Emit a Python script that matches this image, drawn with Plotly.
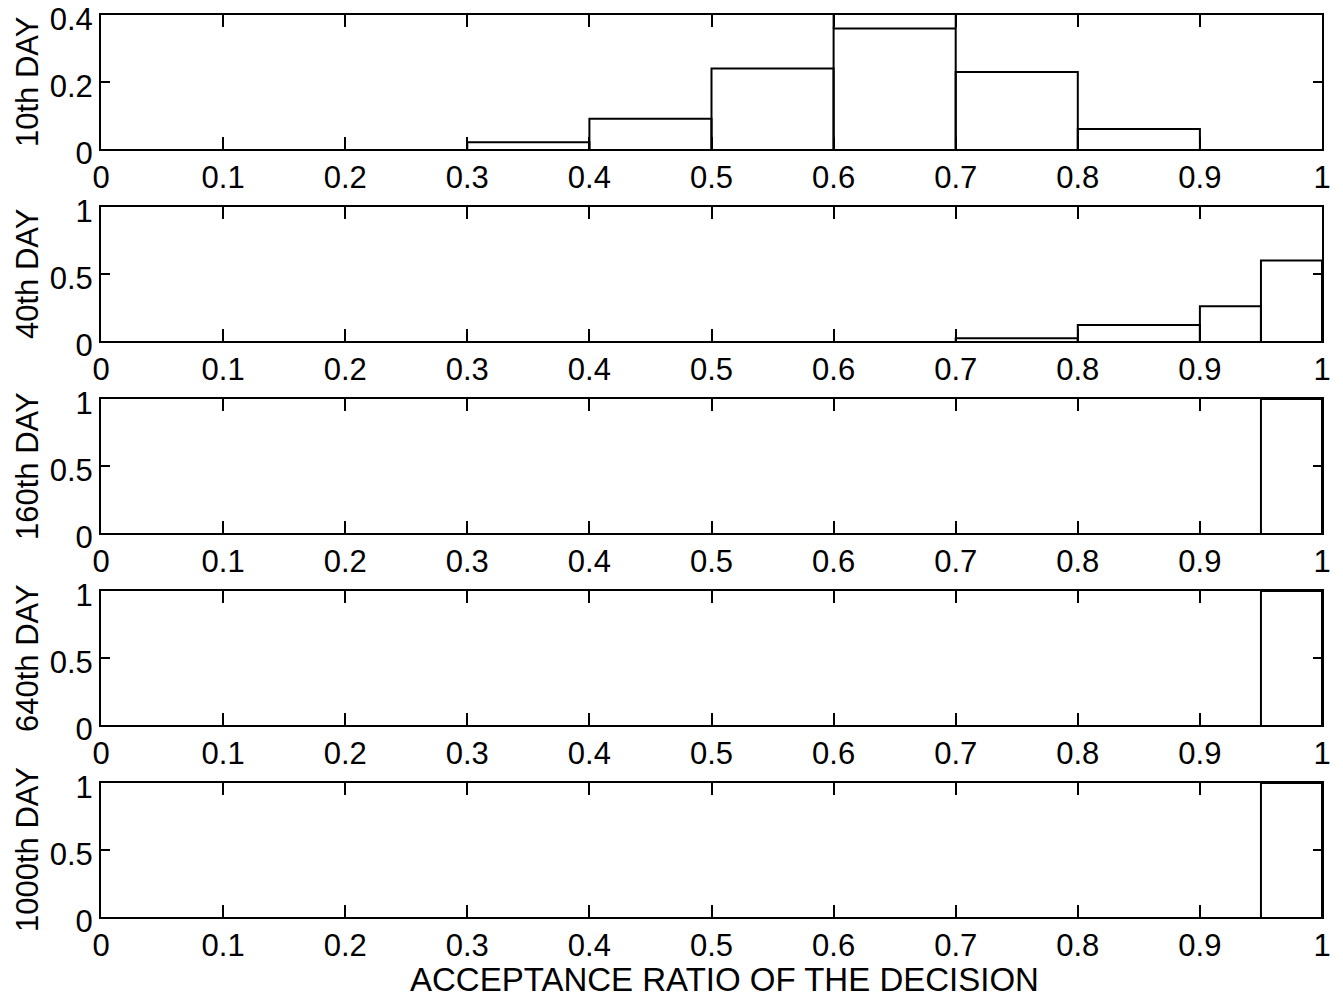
import plotly.graph_objects as go

# Histogram bins (left edge, right edge) and relative frequencies per observation day
x_tick_vals = [0, 0.1, 0.2, 0.3, 0.4, 0.5, 0.6, 0.7, 0.8, 0.9, 1.0]
x_tick_text = ["0", "0.1", "0.2", "0.3", "0.4", "0.5", "0.6", "0.7", "0.8", "0.9", "1"]

day10_edges = [0.3, 0.4, 0.5, 0.6, 0.7, 0.8, 0.9, 1.0]
day10_vals = [0.02, 0.09, 0.24, 0.36, 0.23, 0.06, 0.0]
day10_offscale_bin = [0.6, 0.7]          # bin whose outline runs past the axis top

day40_edges = [0.7, 0.8, 0.9, 0.95, 1.0]
day40_vals = [0.02, 0.12, 0.26, 0.60]

day160_edges = [0.95, 1.0]
day160_vals = [1.0]

day640_edges = [0.95, 1.0]
day640_vals = [1.0]

day1000_edges = [0.95, 1.0]
day1000_vals = [1.0]

panel_titles = ["10th DAY", "40th DAY", "160th DAY", "640th DAY", "1000th DAY"]
panel_edges = [day10_edges, day40_edges, day160_edges, day640_edges, day1000_edges]
panel_vals = [day10_vals, day40_vals, day160_vals, day640_vals, day1000_vals]
y_ranges = [[0, 0.4], [0, 1], [0, 1], [0, 1], [0, 1]]
y_tick_vals = [[0, 0.2, 0.4], [0, 0.5, 1], [0, 0.5, 1], [0, 0.5, 1], [0, 0.5, 1]]
y_tick_text = [["0", "0.2", "0.4"], ["0", "0.5", "1"], ["0", "0.5", "1"],
               ["0", "0.5", "1"], ["0", "0.5", "1"]]
x_title = "ACCEPTANCE RATIO OF THE DECISION"

FONT = "Liberation Sans, Arial, Helvetica, sans-serif"
W, H = 1343, 1003
M_L, M_R, M_T, M_B = 101, 21, 15, 86
plot_h = H - M_T - M_B
panel_px = 134
step_px = 192


def outline(edges, vals):
    xs, ys = [], []
    for x0, x1, h in zip(edges[:-1], edges[1:], vals):
        if h <= 0:
            continue
        xs += [x0, x0, x1, x1, None]
        ys += [0, h, h, 0, None]
    return xs, ys


fig = go.Figure()
layout = {}
annotations = []
for i in range(5):
    n = "" if i == 0 else str(i + 1)
    top_px = i * step_px
    y1 = 1 - top_px / plot_h
    y0 = 1 - (top_px + panel_px) / plot_h
    xs, ys = outline(panel_edges[i], panel_vals[i])
    if i == 0:
        h = day10_vals[day10_edges.index(day10_offscale_bin[0])]
        for e in day10_offscale_bin:
            xs += [e, e, None]
            ys += [h, y_ranges[0][1], None]
    fig.add_trace(go.Scatter(
        x=xs, y=ys, mode="lines", xaxis="x" + n, yaxis="y" + n,
        line=dict(color="black", width=2), showlegend=False, hoverinfo="skip",
    ))
    layout["xaxis" + n] = dict(
        domain=[0, 1], range=[0, 1], anchor="y" + n, automargin=False,
        tickvals=x_tick_vals, ticktext=x_tick_text,
        ticks="inside", ticklen=12, tickwidth=2, tickcolor="black",
        showline=True, linecolor="black", linewidth=2, mirror="allticks",
        showgrid=False, zeroline=False, ticklabeloverflow="allow",
        tickfont=dict(family=FONT, size=31, color="black"),
    )
    layout["yaxis" + n] = dict(
        domain=[max(y0, 0), y1], range=y_ranges[i], anchor="x" + n, automargin=False,
        tickvals=y_tick_vals[i], ticktext=y_tick_text[i],
        ticks="inside", ticklen=9, tickwidth=2, tickcolor="black",
        showline=True, linecolor="black", linewidth=2, mirror="allticks",
        showgrid=False, zeroline=False, ticklabeloverflow="allow",
        ticklabelshift=4,
        tickfont=dict(family=FONT, size=31, color="black"),
    )
    annotations.append(dict(
        text=panel_titles[i], textangle=-90, showarrow=False,
        xref="paper", x=0, xanchor="center", xshift=-74,
        yref="y" + n + " domain", y=0.5, yanchor="middle",
        font=dict(family=FONT, size=31, color="black"),
    ))

# Shared x-axis title under the bottom panel
annotations.append(dict(
    text=x_title, showarrow=False,
    xref="paper", x=0.5, xanchor="center", xshift=13,
    yref="paper", y=0, yanchor="middle", yshift=-62,
    font=dict(family=FONT, size=33, color="black"),
))

fig.update_layout(
    width=W, height=H,
    margin=dict(l=M_L, r=M_R, t=M_T, b=M_B, autoexpand=False),
    paper_bgcolor="white", plot_bgcolor="white",
    annotations=annotations,
    **layout,
)
fig.write_html("out.html")
